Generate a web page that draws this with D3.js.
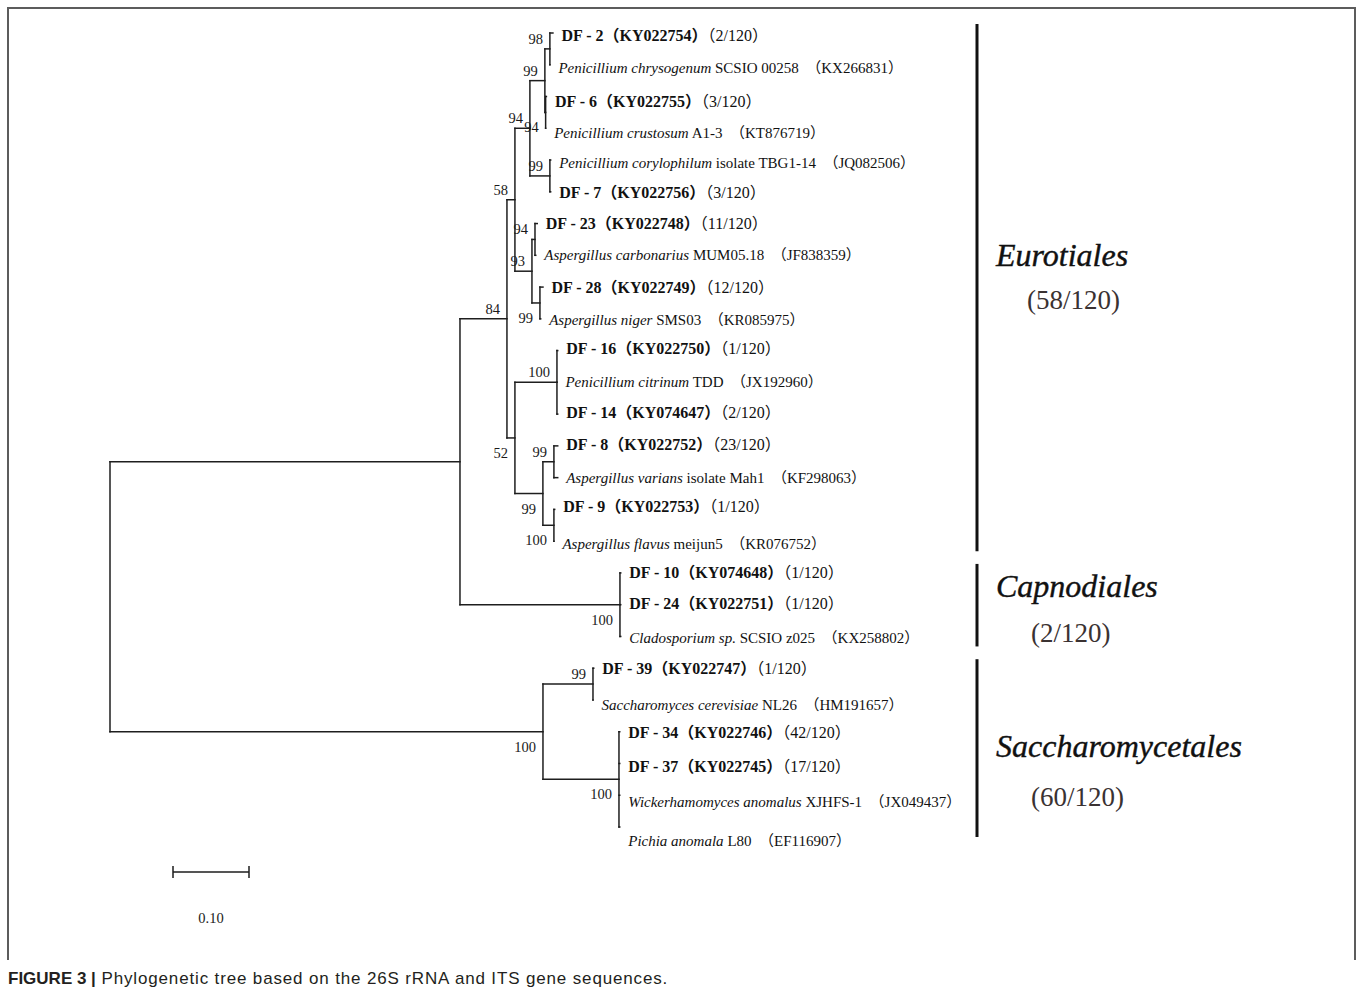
<!DOCTYPE html>
<html><head><meta charset="utf-8">
<script src="https://cdn.jsdelivr.net/npm/d3@7"></script>
<style>
html,body{margin:0;padding:0;background:#fff;}
svg{display:block;}
text{white-space:pre;}
</style></head><body>
<svg id="chart" width="1358" height="994"></svg>
<script>
// ---------------- data ----------------
// internal nodes of the tree (branch length in substitutions/site, bootstrap support)
const nodeIds      = ["root","A","E84","N58","N94","N99a","N98","N94r","N99b","N93","N94c","N99c","N52","N100a","N99d","N99e","N100b","Ncap","Nsac","N99f","N100c"];
const nodeParents  = [null,"root","A","E84","N58","N94","N99a","N99a","N94","N58","N93","N93","E84","N52","N52","N99d","N99d","A","root","Nsac","Nsac"];
const nodeLengths  = [0,0.4605,0.0618,0.0105,0.0197,0.0197,0.0066,0.001,0.0263,0.0224,0.004,0.0105,0.0105,0.0553,0.0368,0.0145,0.0145,0.2105,0.5697,0.0658,0.1];
const nodeSupport  = [null,null,84,58,94,99,98,94,99,93,94,99,52,100,99,99,100,100,100,99,100];

// leaves, top to bottom
const leafIds      = ["DF2","Pchry","DF6","Pcru","Pcor","DF7","DF23","Acar","DF28","Anig","DF16","Pcit","DF14","DF8","Avar","DF9","Afla","DF10","DF24","Clad","DF39","Scer","DF34","DF37","Wano","Pano"];
const leafTaxa     = ["DF - 2","Penicillium chrysogenum","DF - 6","Penicillium crustosum","Penicillium corylophilum","DF - 7","DF - 23","Aspergillus carbonarius","DF - 28","Aspergillus niger","DF - 16","Penicillium citrinum","DF - 14","DF - 8","Aspergillus varians","DF - 9","Aspergillus flavus","DF - 10","DF - 24","Cladosporium sp.","DF - 39","Saccharomyces cerevisiae","DF - 34","DF - 37","Wickerhamomyces anomalus","Pichia anomala"];
const leafStrains  = ["","SCSIO 00258","","A1-3","isolate TBG1-14","","","MUM05.18","","SMS03","","TDD","","","isolate Mah1","","meijun5","","","SCSIO z025","","NL26","","","XJHFS-1","L80"];
const leafAccessions = ["KY022754","KX266831","KY022755","KT876719","JQ082506","KY022756","KY022748","JF838359","KY022749","KR085975","KY022750","JX192960","KY074647","KY022752","KF298063","KY022753","KR076752","KY074648","KY022751","KX258802","KY022747","HM191657","KY022746","KY022745","JX049437","EF116907"];
const leafCounts   = ["2/120","","3/120","","","3/120","11/120","","12/120","","1/120","","2/120","23/120","","1/120","","1/120","1/120","","1/120","","42/120","17/120","",""];
const leafParents  = ["N98","N98","N94r","N94r","N99b","N99b","N94c","N94c","N99c","N99c","N100a","N100a","N100a","N99e","N99e","N100b","N100b","Ncap","Ncap","Ncap","N99f","N99f","N100c","N100c","N100c","N100c"];
const leafLengths  = [0.004,0,0.001,0,0.001,0.001,0.003,0.001,0.004,0.001,0.001,0,0.001,0.005,0.005,0.001,0,0.001,0.001,0.001,0.001,0,0.001,0.001,0.001,0.001];

// orders (clades)
const cladeNames  = ["Eurotiales","Capnodiales","Saccharomycetales"];
const cladeCounts = ["58/120","2/120","60/120"];
const cladeFirst  = ["DF2","DF10","DF39"];
const cladeLast   = ["Afla","Clad","Pano"];

const scaleBarValue = 0.10;
const captionBold = "FIGURE 3 |";
const captionText = " Phylogenetic tree based on the 26S rRNA and ITS gene sequences.";

// ---------------- layout ----------------
const supportSide = ["a","a","a","a","a","a","a","b","a","a","a","b","b","a","b","a","b","b","b","a","b"];
const labelDy = [2,3,5,4,2,1,0,-1,0,1,-2,-1,-2,-1,0,-3,2,0,-1,1,0,5,1,3,6,13];
const cladeNameRow  = [7, 17.4, 22.45];
const cladeCountRow = [8.4, 18.9, 24.05];

const svg = d3.select("#chart");
const serif = "'Liberation Serif','Times New Roman',Times,'Noto Sans CJK SC',serif";
const X0 = 110;
const x = d3.scaleLinear().domain([0, 0.1]).range([0, 76]);
const yRow = d3.scaleLinear().domain([0, leafIds.length - 1]).range([33, 827]);

// frame
svg.append("path").attr("d", "M8,960V8H1355V960").attr("fill", "none")
  .attr("stroke", "#5c5c5c").attr("stroke-width", 2);

// hierarchy
const table = nodeIds.map((id, i) => ({id, parent: nodeParents[i], len: nodeLengths[i], support: nodeSupport[i], side: supportSide[i]}))
  .concat(leafIds.map((id, i) => ({id, parent: leafParents[i], len: leafLengths[i], leaf: i})));
const root = d3.stratify().id(d => d.id).parentId(d => d.parent)(table);
root.eachBefore(n => { n.dist = n.parent ? n.parent.dist + n.data.len : 0; n.px = X0 + x(n.dist); });
root.eachAfter(n => {
  if (!n.children) n.py = yRow(n.data.leaf);
  else { const ys = n.children.map(c => c.py); n.py = (d3.min(ys) + d3.max(ys)) / 2; }
});

const g = svg.append("g").attr("stroke", "#1e1e1e").attr("stroke-width", 1.5).attr("fill", "none").attr("stroke-linecap", "square");
g.selectAll("path.h").data(root.descendants().filter(n => n.parent)).join("path")
  .attr("d", n => `M${n.parent.px},${n.py}H${n.px}`);
g.selectAll("path.v").data(root.descendants().filter(n => n.children)).join("path")
  .attr("d", n => { const ys = n.children.map(c => c.py); return `M${n.px},${d3.min(ys)}V${d3.max(ys)}`; });

// bootstrap values
svg.append("g").selectAll("text").data(root.descendants().filter(n => n.data.support != null)).join("text")
  .attr("x", n => n.px - 7)
  .attr("y", n => n.data.side === "a" ? n.py - 5 : n.py + 20)
  .attr("text-anchor", "end").attr("font-family", serif).attr("font-size", 14.5).attr("fill", "#1a1a1a")
  .text(n => n.data.support);

// leaf labels
const leaves = root.leaves();
const lt = svg.append("g").selectAll("text").data(leaves).join("text")
  .attr("x", n => n.px + 8.5).attr("y", n => n.py + labelDy[n.data.leaf] + 5.5)
  .attr("font-family", serif).attr("fill", "#111")
  .attr("font-size", n => leafCounts[n.data.leaf] ? 16 : 15);
lt.each(function(n) {
  const i = n.data.leaf, t = d3.select(this);
  if (leafCounts[i]) {
    t.append("tspan").attr("font-weight", "bold").text(leafTaxa[i] + "（" + leafAccessions[i] + "）");
    t.append("tspan").text("（" + leafCounts[i] + "）");
  } else {
    t.append("tspan").attr("font-style", "italic").text(leafTaxa[i]);
    t.append("tspan").text(" " + leafStrains[i] + "  （" + leafAccessions[i] + "）");
  }
});

// clade bars and labels
const byId = new Map(leaves.map(n => [n.id, n]));
const barX = 977;
cladeNames.forEach((name, i) => {
  const y1 = byId.get(cladeFirst[i]).py - 9, y2 = byId.get(cladeLast[i]).py + 10;
  svg.append("line").attr("x1", barX).attr("x2", barX).attr("y1", y1).attr("y2", y2)
    .attr("stroke", "#111").attr("stroke-width", 3);
  svg.append("text").attr("x", barX + 19).attr("y", yRow(cladeNameRow[i]) + 11)
    .attr("font-family", serif).attr("font-style", "italic").attr("font-size", 32).attr("fill", "#111")
    .attr("stroke", "#111").attr("stroke-width", 0.4)
    .text(name);
  svg.append("text").attr("x", barX + (i === 0 ? 50 : 54)).attr("y", yRow(cladeCountRow[i]) + 9)
    .attr("font-family", serif).attr("font-size", 27).attr("fill", "#3a3232")
    .text("(" + cladeCounts[i] + ")");
});

// scale bar
const sbX = 173, sbY = 872, sbW = x(scaleBarValue);
svg.append("path").attr("d", `M${sbX},${sbY - 6}V${sbY + 6}M${sbX},${sbY}H${sbX + sbW}M${sbX + sbW},${sbY - 6}V${sbY + 6}`)
  .attr("stroke", "#1e1e1e").attr("stroke-width", 1.5).attr("fill", "none");
svg.append("text").attr("x", sbX + sbW / 2).attr("y", 923).attr("text-anchor", "middle")
  .attr("font-family", serif).attr("font-size", 14.5).attr("fill", "#1a1a1a").text(scaleBarValue.toFixed(2));

// caption
const cap = svg.append("text").attr("x", 8).attr("y", 984)
  .attr("font-family", "'Liberation Sans',Arial,sans-serif").attr("font-size", 17).attr("fill", "#231f20");
cap.append("tspan").attr("font-weight", "bold").text(captionBold);
cap.append("tspan").attr("letter-spacing", 0.85).text(captionText);
</script>
</body></html>
